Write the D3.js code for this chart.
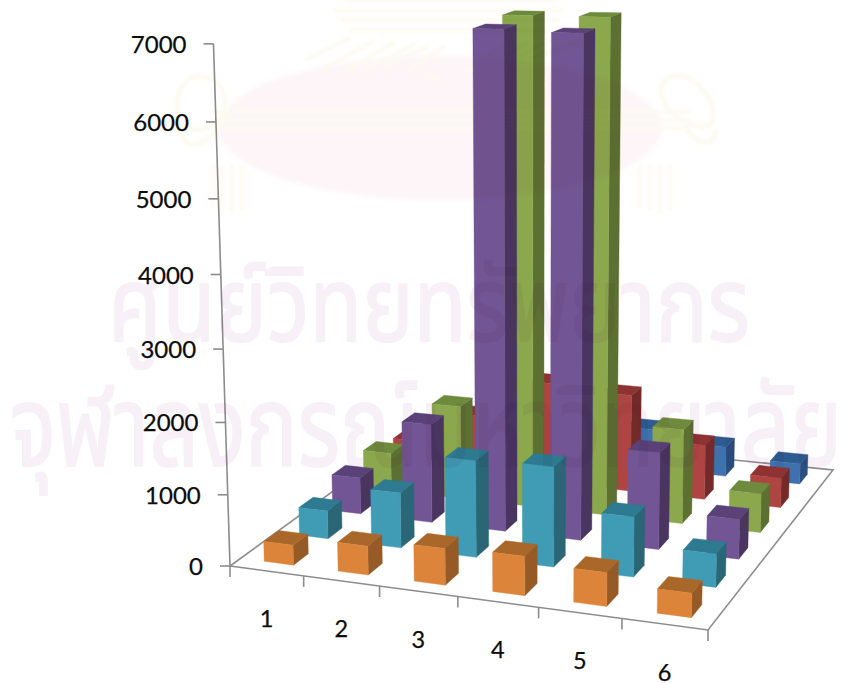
<!DOCTYPE html>
<html><head><meta charset="utf-8">
<script src="https://cdn.jsdelivr.net/npm/d3@7/dist/d3.min.js"></script>
<style>html,body{margin:0;background:#fff}svg{display:block}text{font-family:Lato,"Open Sans",sans-serif}</style>
</head><body><svg id="c" width="845" height="683"></svg>
<script>
const categories=["1","2","3","4","5","6"];
const tickLabels=[0,1000,2000,3000,4000,5000,6000,7000];
const seriesOrange=[280,400,500,530,450,320];
const seriesTeal=[400,780,1350,1380,820,450];
const seriesPurple=[530,1420,6920,6890,1350,550];
const seriesGreen=[560,1370,6960,6960,1350,550];
const seriesRed=[420,900,1500,1430,800,430];
const seriesBlue=[300,500,800,600,440,300];
const seriesList=[seriesOrange,seriesTeal,seriesPurple,seriesGreen,seriesRed,seriesBlue];
const frontColors=["#DD843A","#3F9BB4","#715594","#8BA84D","#AE4442","#3C72AF"];
const topColors=["#A9672C","#2D7A90","#5A4378","#6D8A3E","#8F3030","#2F5C90"];
const sideColors=["#965A26","#2A6675","#4A3660","#5C6F33","#752C2B","#2A5080"];
const watermarkLines=["ศูนย์วิทยทรัพยากร","จุฬาลงกรณ์มหาวิทยาลัย"];

const FL=[230,566],FR=[708,630],BR=[833,470],BL=[420,428];
const den=(FR[0]-BR[0])*(BL[1]-BR[1])-(BL[0]-BR[0])*(FR[1]-BR[1]);
const sx=FL[0]-FR[0]+BR[0]-BL[0],sy=FL[1]-FR[1]+BR[1]-BL[1];
const g=(sx*(BL[1]-BR[1])-(BL[0]-BR[0])*sy)/den;
const hh=((FR[0]-BR[0])*sy-sx*(FR[1]-BR[1]))/den;
const A=FR[0]-FL[0]+g*FR[0],B=BL[0]-FL[0]+hh*BL[0],C=FL[0];
const D=FR[1]-FL[1]+g*FR[1],E=BL[1]-FL[1]+hh*BL[1],F=FL[1];
const V=[530,10056],kz=-0.00745;
const zScale=d3.scaleLinear().domain([0,1000]).range([0,1]);
function proj(u,v,val){
  const z=zScale(val)*kz;
  const w=g*u+hh*v+1+z;
  return [(A*u+B*v+C+z*V[0])/w,(D*u+E*v+F+z*V[1])/w];
}
const xBand=d3.scaleBand().domain(d3.range(categories.length)).range([0.004,1.004]).paddingInner(0.6).paddingOuter(0.3);
const zBand=d3.scaleBand().domain(d3.range(seriesList.length)).range([0,1]).paddingInner(0.58).paddingOuter(0.29);
const svg=d3.select("#c");
const line=d3.line();
const defs=svg.append("defs");
defs.append("filter").attr("id","soft").append("feGaussianBlur").attr("stdDeviation",0.55);
defs.append("filter").attr("id","soft2").append("feGaussianBlur").attr("stdDeviation",1.5);
defs.append("filter").attr("id","soft3").append("feGaussianBlur").attr("stdDeviation",2.5);

const ax=svg.append("g").attr("filter","url(#soft)");
ax.append("path").attr("d",line([FL,FR,BR,BL])+"Z").attr("fill","#fff").attr("stroke","#8c8c8c").attr("stroke-width",1.6);
ax.append("path").attr("d",line([proj(0,0,0),proj(0,0,7000)])).attr("fill","none").attr("stroke","#8c8c8c").attr("stroke-width",1.6);
tickLabels.forEach(t=>{
  const p=proj(0,0,t);
  ax.append("line").attr("x1",p[0]-10).attr("y1",p[1]).attr("x2",p[0]).attr("y2",p[1]).attr("stroke","#8c8c8c").attr("stroke-width",1.6);
  svg.append("text").attr("x",p[0]-27).attr("y",p[1]+9).attr("text-anchor","end").attr("font-size",24).attr("fill","#0c0c0c").attr("stroke","#0c0c0c").attr("stroke-width",0.25).text(t);
});
d3.range(categories.length+1).forEach(i=>{
  const p=proj(i/categories.length,0,0);
  ax.append("line").attr("x1",p[0]).attr("y1",p[1]).attr("x2",p[0]).attr("y2",p[1]+11).attr("stroke","#8c8c8c").attr("stroke-width",1.6);
});
categories.forEach((c,i)=>{
  const p=proj((i+0.5)/categories.length,0,0);
  svg.append("text").attr("x",p[0]).attr("y",p[1]+56.5).attr("text-anchor","middle").attr("font-size",23.5).attr("fill","#0c0c0c").attr("stroke","#0c0c0c").attr("stroke-width",0.25).text(c);
});

const bars=svg.append("g").attr("filter","url(#soft)");
for(let s=seriesList.length-1;s>=0;s--){
  seriesList[s].forEach((val,i)=>{
    const u0=xBand(i),u1=u0+xBand.bandwidth(),v0=zBand(s),v1=v0+zBand.bandwidth();
    const poly=(pts,col)=>bars.append("path").attr("d",line(pts)+"Z").attr("fill",col).attr("stroke",col).attr("stroke-width",0.4);
    poly([proj(u1,v0,0),proj(u1,v1,0),proj(u1,v1,val),proj(u1,v0,val)],sideColors[s]);
    poly([proj(u0,v0,val),proj(u1,v0,val),proj(u1,v1,val),proj(u0,v1,val)],topColors[s]);
    poly([proj(u0,v0,0),proj(u1,v0,0),proj(u1,v0,val),proj(u0,v0,val)],frontColors[s]);
  });
}

const wm=svg.append("g").style("mix-blend-mode","multiply");
wm.append("ellipse").attr("cx",440).attr("cy",128).attr("rx",222).attr("ry",72).attr("fill","#FDF5F7").attr("filter","url(#soft3)");
const em=wm.append("g").attr("fill","none").attr("stroke","#FCFAF1").attr("filter","url(#soft2)");
em.append("path").attr("d","M212 112H690M212 120H690M212 128H690").attr("stroke-width",3.5);
em.append("path").attr("d","M345 0H555M335 10H565M340 20H560M350 30H550").attr("stroke-width",4);
em.append("path").attr("d","M305 60L350 38M325 68L375 40M345 72L395 42M365 70L415 44M385 66L430 46M405 72L445 46M425 76L440 79M465 74L505 44M485 68L530 42M505 64L550 40M530 58L580 42").attr("stroke-width",4);
em.append("path").attr("d","M218 122C178 150 165 95 190 78C222 70 232 100 220 122M222 125C200 150 180 150 182 130M688 122C725 145 720 85 680 75C650 75 660 110 684 122M684 125C700 150 715 145 716 130").attr("stroke-width",5);
em.append("path").attr("d","M222 165V212M232 165V214M242 165V210M214 165V208M650 165V210M660 165V214M670 165V210M640 165V208").attr("stroke-width",4);
[[108,341,642,104],[10,466,832,112]].forEach((r,i)=>{
  wm.append("text").attr("x",r[0]).attr("y",r[1]).attr("font-size",r[3]).attr("textLength",r[2]).attr("lengthAdjust","spacingAndGlyphs")
    .attr("fill","#F8F0F7").attr("stroke","#F8F0F7").attr("stroke-width",2).style("font-family",'"Noto Sans Thai","Noto Sans","DejaVu Sans",sans-serif').text(watermarkLines[i]);
});
</script></body></html>
